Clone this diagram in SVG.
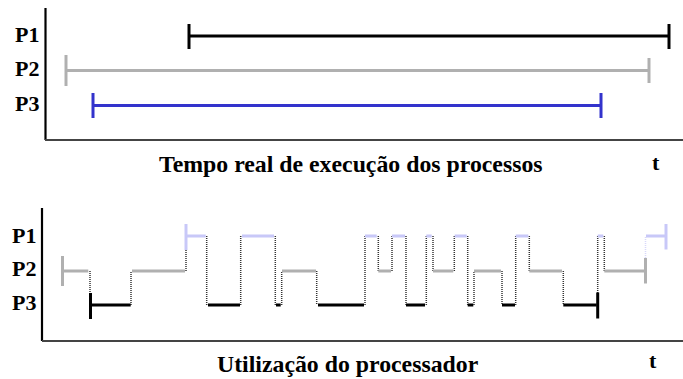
<svg xmlns="http://www.w3.org/2000/svg" width="683" height="379" viewBox="0 0 683 379">
<style>
text{font-family:"Liberation Serif","Times New Roman",serif;font-weight:bold;fill:#000}
.lab{font-size:22px}
.cap{font-size:23.8px}
.axv{stroke:#000;stroke-width:2.2;fill:none}
.axh{stroke:#444;stroke-width:2;fill:none}
.k{stroke:#000;stroke-width:3;fill:none}
.g{stroke:#b0b0b0;stroke-width:3;fill:none}
.b{stroke:#3333cc;stroke-width:3;fill:none}
.lb{stroke:#c8c8f8;stroke-width:3;fill:none}
.dt{stroke:#333;stroke-width:1.5;stroke-dasharray:1 1;fill:none}
.dtl{stroke:#d8d8fa;stroke-width:1.5;stroke-dasharray:1 1;fill:none}
</style>
<g id="axes-top">
<line class="axv" x1="45.5" y1="8" x2="45.5" y2="140"/>
<line class="axh" x1="45" y1="140" x2="683" y2="140"/>
</g>
<g id="labels-top">
<text class="lab" x="15" y="42">P1</text>
<text class="lab" x="15" y="76">P2</text>
<text class="lab" x="15" y="111">P3</text>
<text class="cap" x="159" y="172">Tempo real de execução dos processos</text>
<text class="lab" x="652" y="170">t</text>
</g>
<g id="P1-real">
<line class="k" x1="189" y1="36" x2="668" y2="36"/>
<line class="k" x1="189" y1="24" x2="189" y2="49"/>
<line class="k" x1="669" y1="24" x2="669" y2="49"/>
</g>
<g id="P2-real">
<line class="g" x1="66" y1="70.5" x2="648" y2="70.5"/>
<line class="g" x1="66" y1="55" x2="66" y2="86"/>
<line class="g" x1="649" y1="58" x2="649" y2="83"/>
</g>
<g id="P3-real">
<line class="b" x1="93" y1="105.5" x2="600" y2="105.5"/>
<line class="b" x1="93" y1="93" x2="93" y2="118"/>
<line class="b" x1="601" y1="93" x2="601" y2="118"/>
</g>
<g id="axes-bottom">
<line class="axv" x1="42" y1="208" x2="42" y2="341"/>
<line class="axh" x1="42" y1="341" x2="683" y2="341"/>
</g>
<g id="labels-bottom">
<text class="lab" x="12" y="243">P1</text>
<text class="lab" x="12" y="276">P2</text>
<text class="lab" x="12" y="310">P3</text>
<text class="cap" x="217" y="372">Utilização do processador</text>
<text class="lab" x="649" y="368">t</text>
</g>
<g id="connectors">
<path class="dt" d="M90 271V293M131 305V271M186 271V250M206.7 236V305M240.7 305V236M275.3 236V305M281.7 305V271M316.7 271V305M365 305V236M378.3 236V271M392 271V236M406 236V305M426.3 305V236M433 236V271M454.3 271V236M467.7 236V305M474 305V271M502 271V305M515.7 305V236M529.3 236V271M563.3 271V305M597.7 293V236M604.3 236V271"/>
<path class="dtl" d="M645.5 258V236"/>
</g>
<g id="P1-cpu">
<line class="lb" x1="186" y1="224" x2="186" y2="250"/>
<path class="lb" d="M186 236H205.7M242 236H274M365 236H376.7M392 236H405M426.3 236H431.7M454.7 236H466.7M515.7 236H528.3M597.7 236H603.3M646 236H666"/>
<line class="lb" x1="666" y1="224" x2="666" y2="249.5"/>
</g>
<g id="P2-cpu">
<line class="g" x1="62.5" y1="256" x2="62.5" y2="286"/>
<path class="g" d="M62.5 271H88.3M132 271H185M282 271H316M378.3 271H391M433 271H453.3M474 271H501M529.3 271H562M604.3 271H645"/>
<line class="g" x1="645.5" y1="258" x2="645.5" y2="283.5"/>
</g>
<g id="P3-cpu">
<line class="k" x1="90.5" y1="293" x2="90.5" y2="319"/>
<path class="k" d="M90.5 305H130.7M208 305H240M276 305H280.7M318 305H364M406 305H425M467.7 305H473.3M502 305H515M563.3 305H596.7"/>
<line class="k" x1="597.7" y1="292.5" x2="597.7" y2="318.5"/>
</g>
</svg>
